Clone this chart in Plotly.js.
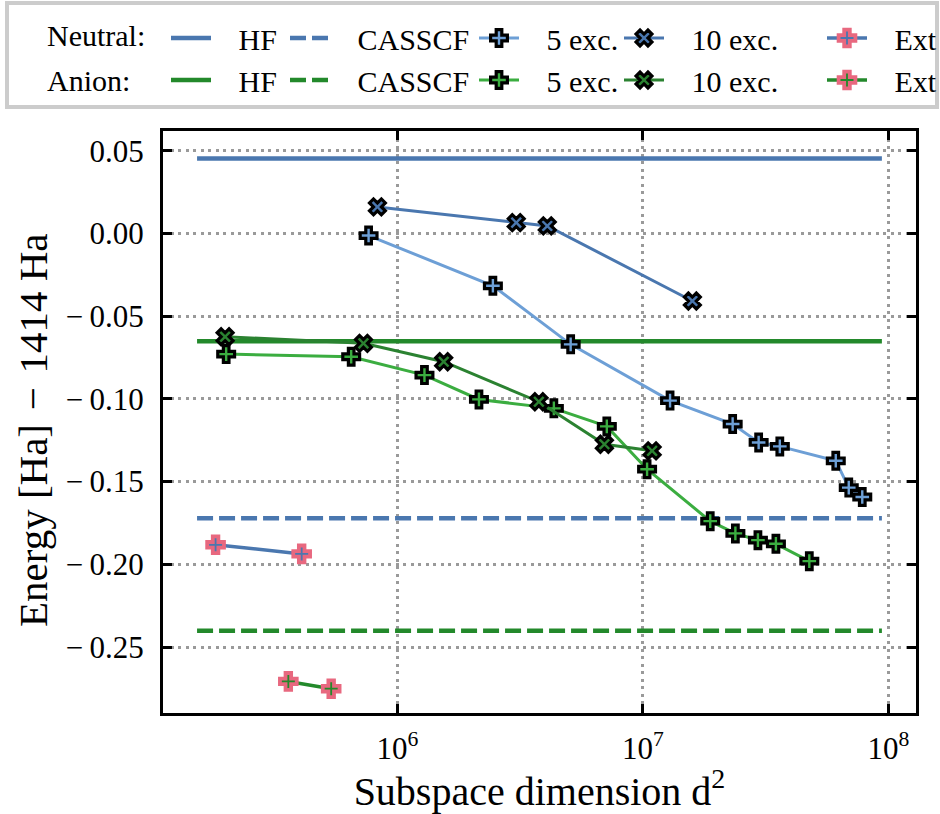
<!DOCTYPE html>
<html>
<head>
<meta charset="utf-8">
<script src="https://cdn.plot.ly/plotly-3.0.1.min.js"></script>
<style>html,body{margin:0;padding:0;background:#fff;}#chart{width:940px;height:814px;}</style>
</head>
<body>
<div id="chart"></div>
<script>
// ---- data ----
const refX = [1.53e5, 9.4e7];                 // extent of the horizontal reference lines
const hfNeutral = 0.0453;
const hfAnion = -0.0652;
const casNeutral = -0.1721;
const casAnion = -0.2402;

const xNeutral5 = [7.64e5, 2.45e6, 5.08e6, 1.29e7, 2.32e7, 2.96e7, 3.61e7, 6.1e7, 6.89e7, 7.82e7];
const yNeutral5 = [-0.0012, -0.0316, -0.067, -0.101, -0.1152, -0.1263, -0.1287, -0.1374, -0.1536, -0.1593];
const xNeutral10 = [8.3e5, 3.05e6, 4.08e6, 1.59e7];
const yNeutral10 = [0.0161, 0.0066, 0.0046, -0.0408];
const xAnion5 = [2.01e5, 6.49e5, 1.29e6, 2.15e6, 4.34e6, 7.13e6, 1.04e7, 1.88e7, 2.38e7, 2.94e7, 3.48e7, 4.76e7];
const yAnion5 = [-0.0729, -0.0745, -0.0856, -0.1003, -0.1057, -0.1166, -0.1425, -0.1739, -0.1813, -0.1854, -0.1876, -0.1981];
const xAnion10 = [1.99e5, 7.28e5, 1.545e6, 3.77e6, 6.97e6, 1.09e7];
const yAnion10 = [-0.0624, -0.0664, -0.0775, -0.1017, -0.1274, -0.1314];
const xNeutralExt = [1.82e5, 4.08e5];
const yNeutralExt = [-0.1882, -0.1937];
const xAnionExt = [3.6e5, 5.38e5];
const yAnionExt = [-0.2708, -0.2752];

const xTickVals = [1e6, 1e7, 1e8];
const xTickText = ['10<sup>6</sup>', '10<sup>7</sup>', '10<sup>8</sup>'];
const yTickVals = [0.05, 0.0, -0.05, -0.10, -0.15, -0.20, -0.25];
const yTickText = ['0.05', '0.00', '\u2212\u20090.05', '\u2212\u20090.10', '\u2212\u20090.15', '\u2212\u20090.20', '\u2212\u20090.25'];

// ---- styles ----
const FONT = 'Liberation Serif';
const cBlue = '#4a77af';
const cBlueLight = '#6d9fd6';
const cGreen = '#23892b';
const cGreenLight = '#3bad40';
const cGreenDark = '#2b8231';
const cPink = '#e8687f';
const sp = '\u00A0\u00A0\u00A0';

function hline(y, color, dash, name, legend) {
  return {x: refX, y: [y, y], mode: 'lines', name: sp + name, legend: legend,
    line: {color: color, width: 4.5, dash: dash}, hoverinfo: 'skip'};
}
function series(x, y, lineColor, symbol, faceColor, edgeColor, edgeW, size, name, legend, lw) {
  return {x: x, y: y, mode: 'lines+markers', name: sp + name, legend: legend,
    line: {color: lineColor, width: lw},
    marker: {symbol: symbol, size: size, color: faceColor, line: {color: edgeColor, width: edgeW}}};
}

const traces = [
  hline(hfNeutral, cBlue, 'solid', 'HF', 'legend'),
  hline(hfAnion, cGreen, 'solid', 'HF', 'legend'),
  hline(casNeutral, cBlue, '16px,6px', 'CASSCF', 'legend2'),
  hline(casAnion, cGreen, '16px,6px', 'CASSCF', 'legend2'),
  series(xNeutral5, yNeutral5, cBlueLight, 'cross', cBlueLight, '#000', 3.2, 14, '5 exc.', 'legend3', 3),
  series(xAnion5, yAnion5, cGreenLight, 'cross', cGreenLight, '#000', 3.2, 14, '5 exc.', 'legend3', 3),
  series(xNeutral10, yNeutral10, cBlue, 'x', cBlue, '#000', 3.2, 14, '10 exc.', 'legend4', 3),
  series(xAnion10, yAnion10, cGreenDark, 'x', cGreenDark, '#000', 3.2, 14, '10 exc.', 'legend4', 3),
  series(xNeutralExt, yNeutralExt, cBlue, 'cross', cBlue, cPink, 3.8, 14, 'Ext', 'legend5', 3.5),
  series(xAnionExt, yAnionExt, cGreen, 'cross', cGreen, cPink, 3.8, 14, 'Ext', 'legend5', 3.5)
];

// plot area in px: l=163, r=916, t=131, b=713
const L = 163, R = 916, T = 131, B = 713;
const W = R - L, H = B - T;
const px = v => (v - L) / W;
const py = v => (B - v) / H;

function leg(xpx) {
  return {x: px(xpx), y: py(12), xanchor: 'left', yanchor: 'top', orientation: 'v',
    bgcolor: 'rgba(0,0,0,0)', borderwidth: 0, itemwidth: 40, tracegroupgap: 0,
    font: {family: FONT, size: 30, color: '#000'}};
}

const layout = {
  width: 940, height: 814,
  margin: {l: L, r: 940 - R, t: T, b: 814 - B, autoexpand: false},
  paper_bgcolor: '#fff', plot_bgcolor: '#fff',
  font: {family: FONT, size: 30, color: '#000'},
  showlegend: true,
  legend: leg(166),
  legend2: leg(285),
  legend3: leg(474),
  legend4: leg(619),
  legend5: leg(822),
  xaxis: {
    type: 'log', range: [5.046, 8.112],
    tickvals: xTickVals, ticktext: xTickText,
    ticks: 'inside', ticklen: 9, tickwidth: 3, tickcolor: '#000',
    showline: true, linecolor: '#000', linewidth: 3, mirror: 'allticks',
    showgrid: true, gridcolor: '#9a9a9a', gridwidth: 3, griddash: '3px,4.5px',
    zeroline: false, tickfont: {family: FONT, size: 31, color: '#000'},
    ticklabelstandoff: 6,
    title: {text: 'Subspace dimension d<sup>2</sup>', font: {family: FONT, size: 40, color: '#000'}, standoff: 12},
    automargin: false
  },
  yaxis: {
    range: [-0.2899, 0.062],
    tickvals: yTickVals, ticktext: yTickText,
    ticks: 'inside', ticklen: 9, tickwidth: 3, tickcolor: '#000',
    showline: true, linecolor: '#000', linewidth: 3, mirror: 'allticks',
    showgrid: true, gridcolor: '#9a9a9a', gridwidth: 3, griddash: '3px,4.5px',
    zeroline: false, tickfont: {family: FONT, size: 31, color: '#000'},
    ticklabelstandoff: 10,
    automargin: false
  },
  shapes: [{type: 'rect', xref: 'paper', yref: 'paper',
    x0: px(7), x1: px(937), y0: py(107), y1: py(3),
    line: {color: '#cccccc', width: 4}, fillcolor: 'rgba(0,0,0,0)', layer: 'above'}],
  annotations: [
    {text: 'Neutral:', xref: 'paper', yref: 'paper', x: px(45), y: py(36), xanchor: 'left', yanchor: 'middle',
      showarrow: false, font: {family: FONT, size: 30, color: '#000'}},
    {text: 'Anion:', xref: 'paper', yref: 'paper', x: px(45), y: py(80), xanchor: 'left', yanchor: 'middle',
      showarrow: false, font: {family: FONT, size: 30, color: '#000'}},
    {text: 'Energy [Ha]\u2004\u2212\u20041414 Ha', xref: 'paper', yref: 'paper', x: px(33), y: py(430),
      xanchor: 'center', yanchor: 'middle', textangle: -90, showarrow: false,
      font: {family: FONT, size: 41, color: '#000'}}
  ]
};

Plotly.newPlot('chart', traces, layout, {displayModeBar: false, staticPlot: true});
</script>
</body>
</html>
